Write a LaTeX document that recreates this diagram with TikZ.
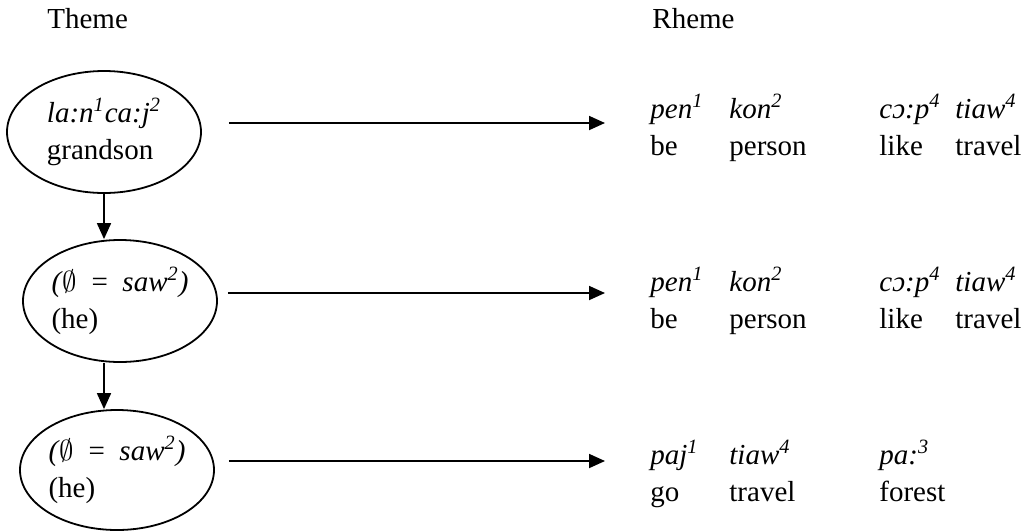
\documentclass[tikz,border=0pt]{standalone}
\usepackage{fontspec}
\setmainfont{Liberation Serif}
\usepackage{amssymb}
\usetikzlibrary{arrows.meta,positioning,shapes.geometric}

\begin{document}
\fontsize{14.5}{18.5}\selectfont
\begin{tikzpicture}[x=0.5pt,y=-0.5pt,
  theme/.style={ellipse,draw=black,line width=.9pt,align=left,inner sep=0pt,
    minimum width=97pt,minimum height=61pt},
  label/.style={anchor=base west,inner sep=0pt},
  word/.style={anchor=base west,inner sep=0pt,font=\itshape},
  gloss/.style={anchor=base west,inner sep=0pt},
  link/.style={line width=.9pt,-{Triangle[length=8pt,width=7pt]}}]
\useasboundingbox (0,0) rectangle (1023,531);
\node[label] (thm) at (47,28) {Theme};
\node[label] (rhm) at (652,28) {Rheme};
% theme ellipses
\node[theme] (e1) at (104,132)
  {\textit{la:n\textsuperscript{1}ca:j\textsuperscript{2}}\\grandson};
\node[theme] (e2) at (120,301)
  {\textit{(}$\emptyset$\enspace=\enspace\textit{saw\textsuperscript{2})}\\(he)};
\node[theme,minimum height=60pt] (e3) at (117,470)
  {\textit{(}$\emptyset$\enspace=\enspace\textit{saw\textsuperscript{2})}\\(he)};
\draw[link] (e1.south) -- (e2.north -| e1.south);
\draw[link] (e2.south -| e1.south) -- (e3.north -| e1.south);
% arrow ends
\coordinate (t1) at (605,123);
\coordinate (t2) at (605,293);
\coordinate (t3) at (605,461);
\draw[link,shorten <=13.5pt] (e1.east |- t1) -- (t1);
\draw[link,shorten <=5pt] (e2.east |- t2) -- (t2);
\draw[link,shorten <=7pt] (e3.east |- t3) -- (t3);
% rheme, row 1
\node[word] (r1a) at (650,118) {pen\textsuperscript{1}};
\node[word] (r1b) at (729,118) {kon\textsuperscript{2}};
\node[word] (r1c) at (879,118) {cɔ:p\textsuperscript{4}};
\node[word] (r1d) at (955,118) {tiaw\textsuperscript{4}};
\node[gloss] (g1a) at (650,155) {be};
\node[gloss] (g1b) at (729,155) {person};
\node[gloss] (g1c) at (879,155) {like};
\node[gloss] (g1d) at (955,155) {travel};
% rheme, row 2
\node[word] (r2a) at (650,291) {pen\textsuperscript{1}};
\node[word] (r2b) at (729,291) {kon\textsuperscript{2}};
\node[word] (r2c) at (879,291) {cɔ:p\textsuperscript{4}};
\node[word] (r2d) at (955,291) {tiaw\textsuperscript{4}};
\node[gloss] (g2a) at (650,328) {be};
\node[gloss] (g2b) at (729,328) {person};
\node[gloss] (g2c) at (879,328) {like};
\node[gloss] (g2d) at (955,328) {travel};
% rheme, row 3
\node[word] (r3a) at (650,464) {paj\textsuperscript{1}};
\node[word] (r3b) at (729,464) {tiaw\textsuperscript{4}};
\node[word] (r3c) at (879,464) {pa:\textsuperscript{3}};
\node[gloss] (g3a) at (650,501) {go};
\node[gloss] (g3b) at (729,501) {travel};
\node[gloss] (g3c) at (879,501) {forest};
\end{tikzpicture}
\end{document}
